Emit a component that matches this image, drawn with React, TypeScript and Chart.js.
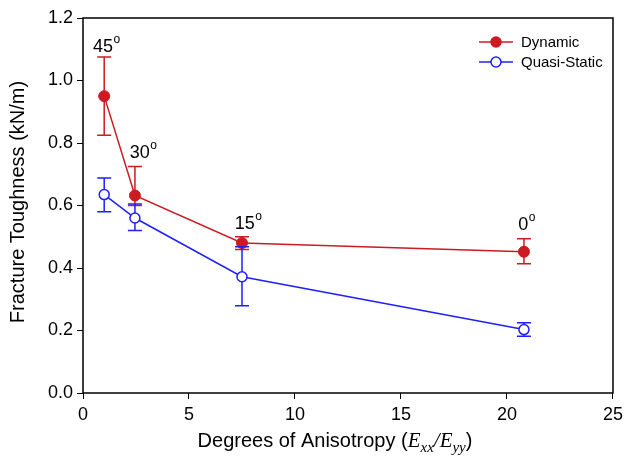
import React, { useEffect, useRef } from "react";
import { Chart, registerables } from "chart.js";

Chart.register(...registerables);

const anisotropy = [1.0, 2.45, 7.5, 20.8];
const dynamicValues = [0.95, 0.632, 0.48, 0.452];
const dynamicUpper = [1.075, 0.725, 0.5, 0.494];
const dynamicLower = [0.825, 0.6, 0.459, 0.414];
const quasiValues = [0.635, 0.56, 0.372, 0.203];
const quasiUpper = [0.688, 0.605, 0.468, 0.225];
const quasiLower = [0.58, 0.52, 0.279, 0.182];
const angleLabels = ["45", "30", "15", "0"];
const angleLabelX = [0.47, 2.21, 7.16, 20.53];
const angleLabelY = [1.091, 0.752, 0.525, 0.522];
const seriesNames = ["Dynamic", "Quasi-Static"];
const yTitle = "Fracture Toughness (kN/m)";

const RED = "#cc1b22";
const BLUE = "#1f1fff";
const SANS = "'Liberation Sans', Arial, sans-serif";
const SERIF = "'Liberation Serif', 'Times New Roman', serif";

const errors = [
  { upper: dynamicUpper, lower: dynamicLower, color: RED },
  { upper: quasiUpper, lower: quasiLower, color: BLUE },
];

const customPlugin = {
  id: "custom",
  beforeDatasetDraw(chart: any, args: any) {
    const e = errors[args.index];
    if (!e) return;
    const { ctx } = chart;
    const xs = chart.scales.x;
    const ys = chart.scales.y;
    ctx.save();
    ctx.strokeStyle = e.color;
    ctx.lineWidth = 1.5;
    anisotropy.forEach((xv, i) => {
      const px = xs.getPixelForValue(xv);
      const top = ys.getPixelForValue(e.upper[i]);
      const bot = ys.getPixelForValue(e.lower[i]);
      ctx.beginPath();
      ctx.moveTo(px, top);
      ctx.lineTo(px, bot);
      ctx.moveTo(px - 7, top);
      ctx.lineTo(px + 7, top);
      ctx.moveTo(px - 7, bot);
      ctx.lineTo(px + 7, bot);
      ctx.stroke();
    });
    ctx.restore();
  },
  afterDraw(chart: any) {
    const { ctx, chartArea } = chart;
    const xs = chart.scales.x;
    const ys = chart.scales.y;
    ctx.save();
    // frame
    ctx.strokeStyle = "#000";
    ctx.lineWidth = 1.5;
    ctx.strokeRect(chartArea.left, chartArea.top, chartArea.right - chartArea.left, chartArea.bottom - chartArea.top);

    // angle annotations
    ctx.fillStyle = "#000";
    ctx.textBaseline = "alphabetic";
    ctx.textAlign = "left";
    angleLabels.forEach((lab, i) => {
      const px = xs.getPixelForValue(angleLabelX[i]);
      const py = ys.getPixelForValue(angleLabelY[i]);
      ctx.font = `18px ${SANS}`;
      ctx.fillText(lab, px, py);
      const w = ctx.measureText(lab).width;
      ctx.font = `12px ${SANS}`;
      ctx.fillText("o", px + w + 0.5, py - 9);
    });

    // legend
    const legendItems = [
      { name: seriesNames[0], color: RED, fill: RED, y: 42 },
      { name: seriesNames[1], color: BLUE, fill: "#fff", y: 62 },
    ];
    legendItems.forEach((it) => {
      ctx.strokeStyle = it.color;
      ctx.lineWidth = 1.5;
      ctx.beginPath();
      ctx.moveTo(479, it.y);
      ctx.lineTo(513, it.y);
      ctx.stroke();
      ctx.beginPath();
      ctx.arc(496, it.y, 5, 0, Math.PI * 2);
      ctx.fillStyle = it.fill;
      ctx.fill();
      ctx.stroke();
      ctx.fillStyle = "#000";
      ctx.font = `15px ${SANS}`;
      ctx.textBaseline = "middle";
      ctx.fillText(it.name, 521, it.y + 1);
    });

    // y title
    ctx.save();
    ctx.translate(18, 202);
    ctx.rotate(-Math.PI / 2);
    ctx.textAlign = "center";
    ctx.textBaseline = "middle";
    ctx.font = `20px ${SANS}`;
    ctx.fillStyle = "#000";
    ctx.fillText(yTitle, 0, 0);
    ctx.restore();

    // x title with italic/subscripts
    const segs = [
      { t: "Degrees of Anisotropy (", f: `20px ${SANS}`, dy: 0 },
      { t: "E", f: `italic 21px ${SERIF}`, dy: 0 },
      { t: "xx", f: `italic 15px ${SERIF}`, dy: 5 },
      { t: "/", f: `italic 21px ${SERIF}`, dy: 0 },
      { t: "E", f: `italic 21px ${SERIF}`, dy: 0 },
      { t: "yy", f: `italic 15px ${SERIF}`, dy: 5 },
      { t: ")", f: `20px ${SANS}`, dy: 0 },
    ];
    ctx.textAlign = "left";
    ctx.textBaseline = "alphabetic";
    let total = 0;
    const widths = segs.map((s) => {
      ctx.font = s.f;
      const w = ctx.measureText(s.t).width;
      total += w;
      return w;
    });
    let x = 335 - total / 2;
    segs.forEach((s, i) => {
      ctx.font = s.f;
      ctx.fillText(s.t, x, 447 + s.dy);
      x += widths[i];
    });
    ctx.restore();
  },
};

export default function App() {
  const canvasRef = useRef<HTMLCanvasElement | null>(null);

  useEffect(() => {
    document.body.style.margin = "0";
    const canvas = canvasRef.current;
    if (!canvas) return;
    const chart = new Chart(canvas, {
      type: "line",
      data: {
        datasets: [
          {
            label: seriesNames[0],
            data: anisotropy.map((x, i) => ({ x, y: dynamicValues[i] })),
            borderColor: RED,
            backgroundColor: RED,
            borderWidth: 1.5,
            pointRadius: 5.5,
            pointBorderWidth: 1,
            pointBackgroundColor: RED,
            pointBorderColor: RED,
            tension: 0,
            order: 1,
          },
          {
            label: seriesNames[1],
            data: anisotropy.map((x, i) => ({ x, y: quasiValues[i] })),
            borderColor: BLUE,
            backgroundColor: "#fff",
            borderWidth: 1.5,
            pointRadius: 5,
            pointBorderWidth: 1.5,
            pointBackgroundColor: "#fff",
            pointBorderColor: BLUE,
            tension: 0,
            order: 0,
          },
        ],
      },
      options: {
        responsive: false,
        animation: false,
        layout: { padding: { top: 18, right: 14, left: 0, bottom: 0 } },
        plugins: { legend: { display: false }, tooltip: { enabled: false } },
        scales: {
          x: {
            type: "linear",
            min: 0,
            max: 25,
            afterFit: (s: any) => {
              s.height = 63;
            },
            ticks: {
              stepSize: 5,
              color: "#000",
              font: { family: SANS, size: 18 },
              padding: 5,
              maxRotation: 0,
            },
            grid: { drawOnChartArea: false, drawTicks: true, tickLength: 6, color: "#000" },
            border: { display: false },
          },
          y: {
            type: "linear",
            min: 0,
            max: 1.2,
            afterFit: (s: any) => {
              s.width = 83;
            },
            ticks: {
              stepSize: 0.2,
              color: "#000",
              font: { family: SANS, size: 18 },
              padding: 4,
              callback: (v: any) => Number(v).toFixed(1),
            },
            grid: { drawOnChartArea: false, drawTicks: true, tickLength: 6, color: "#000" },
            border: { display: false },
          },
        },
      },
      plugins: [customPlugin],
    } as any);
    return () => chart.destroy();
  }, []);

  return (
    <div style={{ width: 628, height: 456 }}>
      <canvas ref={canvasRef} width={628} height={456} />
    </div>
  );
}
